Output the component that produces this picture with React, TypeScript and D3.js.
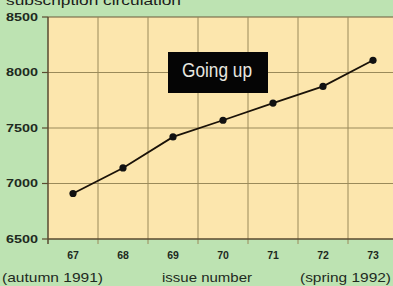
import React from "react";
import * as d3 from "d3";

const issues = ["67", "68", "69", "70", "71", "72", "73"];
const circulation = [6910, 7140, 7420, 7570, 7725, 7875, 8110];
const yTicks = [6500, 7000, 7500, 8000, 8500];
const title = "subscription circulation";
const badge = "Going up";
const footLeft = "(autumn 1991)";
const footMid = "issue number";
const footRight = "(spring 1992)";

export default function App() {
  const W = 393, H = 286;
  const left = 48, top = 17, bottom = 239;
  const x = d3.scaleBand<string>().domain(issues).range([left, left + 50 * issues.length]).padding(0);
  const y = d3.scaleLinear().domain([6500, 8500]).range([bottom, top]);
  const cx = (d: string) => (x(d) as number) + x.bandwidth() / 2;
  const line = d3.line<number>().x((_, i) => cx(issues[i])).y((v) => y(v));
  const grid = "#9a8a5a";
  const font = "Liberation Sans, Arial, sans-serif";
  const adj = "spacingAndGlyphs";
  return (
    <svg width={W} height={H} style={{ position: "absolute", left: 0, top: 0, display: "block" }}>
      <rect x={0} y={0} width={W} height={H} fill="#bde3b2" />
      <text x={6} y={5} fontFamily={font} fontSize={13} textLength={175} lengthAdjust={adj} fill="#1a1a1a">{title}</text>
      <rect x={left} y={top} width={W - left} height={bottom - top} fill="#fce6ad" />
      {yTicks.slice(1, -1).map((t) => (
        <line key={t} x1={left} x2={W} y1={y(t)} y2={y(t)} stroke={grid} strokeWidth={1} />
      ))}
      <line x1={left} x2={W} y1={y(8500)} y2={y(8500)} stroke="#6a5a3a" strokeWidth={1.2} />
      {issues.slice(1).map((d) => (
        <line key={d} x1={x(d)} x2={x(d)} y1={top} y2={bottom + 5} stroke={grid} strokeWidth={1} />
      ))}
      <line x1={left} x2={W} y1={bottom} y2={bottom} stroke="#5a4a30" strokeWidth={1.3} />
      <line x1={left} x2={left} y1={top} y2={bottom + 5} stroke="#5a4a30" strokeWidth={1.5} />
      {yTicks.map((t) => (
        <g key={t}>
          <line x1={left - 6} x2={left} y1={y(t)} y2={y(t)} stroke="#5a4a30" strokeWidth={1.2} />
          <text x={6} y={y(t) + 3.5} fontFamily={font} fontWeight="bold" fontSize={10.5} textLength={32} lengthAdjust={adj} fill="#1e2a1e">{t}</text>
        </g>
      ))}
      {issues.map((d) => (
        <text key={d} x={cx(d)} y={259} textAnchor="middle" fontFamily={font} fontWeight="bold" fontSize={10.5} fill="#1e2a1e">{d}</text>
      ))}
      <text x={2} y={282} fontFamily={font} fontSize={13.5} textLength={101} lengthAdjust={adj} fill="#1e2a1e">{footLeft}</text>
      <text x={162} y={282} fontFamily={font} fontSize={13.5} textLength={90} lengthAdjust={adj} fill="#1e2a1e">{footMid}</text>
      <text x={300} y={282} fontFamily={font} fontSize={13.5} textLength={91} lengthAdjust={adj} fill="#1e2a1e">{footRight}</text>
      <path d={line(circulation) ?? ""} fill="none" stroke="#1a1208" strokeWidth={1.8} />
      {circulation.map((v, i) => (
        <circle key={i} cx={cx(issues[i])} cy={y(v)} r={3.6} fill="#111" />
      ))}
      <rect x={168} y={52} width={100} height={41} fill="#050505" />
      <text x={182} y={77} fontFamily={font} fontSize={21} textLength={70} lengthAdjust={adj} fill="#e8e8e0">{badge}</text>
    </svg>
  );
}
